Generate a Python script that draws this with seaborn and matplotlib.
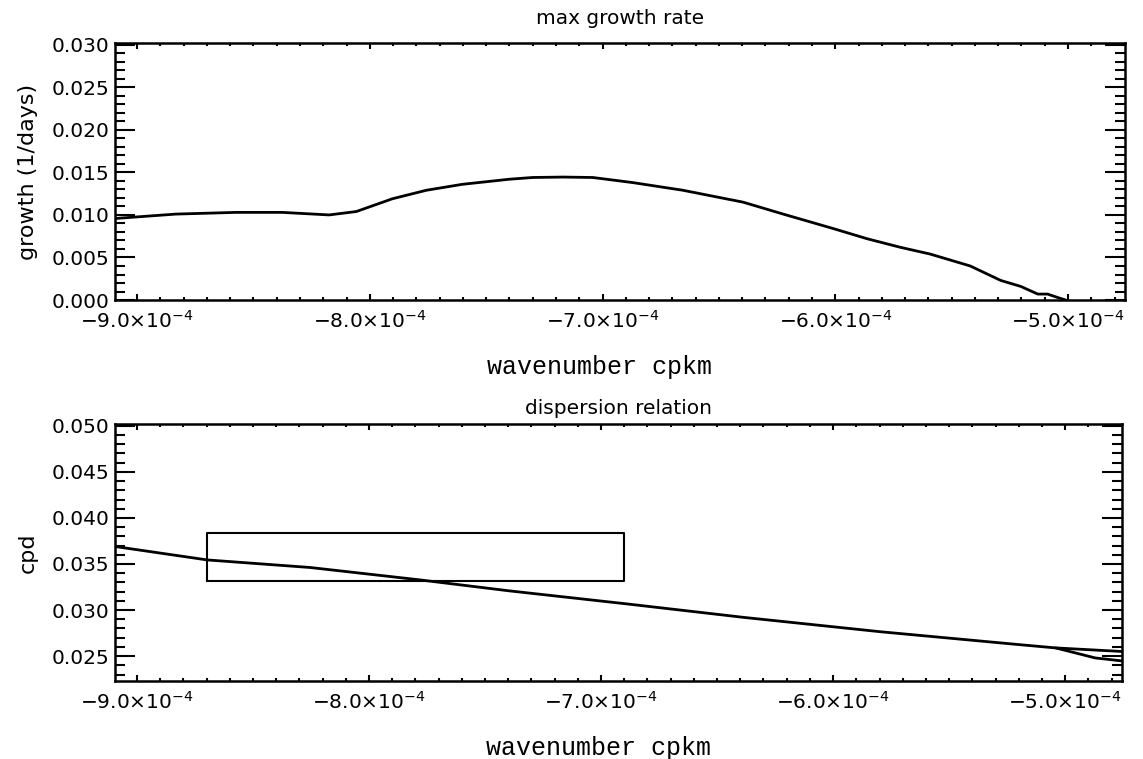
import matplotlib
matplotlib.use("Agg")
import matplotlib.pyplot as plt
from matplotlib.ticker import MultipleLocator, FuncFormatter
import numpy as np
import pandas as pd
import seaborn as sns

# Growth rate of the fastest-growing mode as a function of wavenumber (cpkm)
growth_k = [-9.100e-4, -8.833e-4, -8.575e-4, -8.377e-4, -8.175e-4, -8.058e-4,
            -7.903e-4, -7.757e-4, -7.602e-4, -7.399e-4, -7.300e-4, -7.170e-4,
            -7.042e-4, -6.870e-4, -6.655e-4, -6.396e-4, -6.224e-4, -6.009e-4,
            -5.863e-4, -5.721e-4, -5.592e-4, -5.420e-4, -5.289e-4, -5.203e-4,
            -5.130e-4, -5.088e-4, -5.045e-4, -5.010e-4]
growth_rate = [0.00957, 0.0101, 0.0103, 0.0103, 0.0100, 0.0104,
               0.0119, 0.0129, 0.0136, 0.0142, 0.0144, 0.01445,
               0.0144, 0.0138, 0.0129, 0.0115, 0.0101, 0.0084,
               0.0072, 0.0062, 0.0054, 0.0040, 0.0023, 0.0016,
               0.0007, 0.0007, 0.0003, 0.0000]

# Dispersion relation: main branch and the second root near the short-wave end
disp_k = [-9.095e-4, -8.697e-4, -8.254e-4, -7.783e-4, -7.398e-4, -6.883e-4,
          -6.384e-4, -5.798e-4, -5.200e-4, -5.041e-4, -4.755e-4]
disp_freq = [0.0369, 0.03544, 0.03462, 0.03328, 0.03209, 0.03065,
             0.0292, 0.02765, 0.02625, 0.02589, 0.02550]
branch2_k = [-5.041e-4, -4.870e-4, -4.755e-4]
branch2_freq = [0.02589, 0.0248, 0.02448]

# Highlighted wavenumber / frequency window
box_k = [-8.70e-4, -6.90e-4]
box_freq = [0.0332, 0.0384]

sns.set_theme(style="ticks")
plt.rcParams["font.family"] = ["DejaVu Sans"]
plt.rcParams["mathtext.fontset"] = "dejavusans"
for key in ("text.color", "axes.labelcolor", "xtick.color", "ytick.color",
            "axes.edgecolor"):
    plt.rcParams[key] = "black"

fig = plt.figure(figsize=(11.43, 7.59), dpi=100)
ax1 = fig.add_axes([0.1006, 0.6047, 0.8837, 0.3386])
ax2 = fig.add_axes([0.1006, 0.1028, 0.8810, 0.3386])

growth_df = pd.DataFrame({"k": growth_k, "rate": growth_rate})
disp_df = pd.DataFrame({"k": disp_k, "freq": disp_freq})
branch2_df = pd.DataFrame({"k": branch2_k, "freq": branch2_freq})

line_kw = dict(color="black", linewidth=2.0, estimator=None, legend=False)
sns.lineplot(data=growth_df, x="k", y="rate", ax=ax1, **line_kw)
sns.lineplot(data=disp_df, x="k", y="freq", ax=ax2, **line_kw)
sns.lineplot(data=branch2_df, x="k", y="freq", ax=ax2, **line_kw)

bx = [box_k[0], box_k[1], box_k[1], box_k[0], box_k[0]]
by = [box_freq[0], box_freq[0], box_freq[1], box_freq[1], box_freq[0]]
ax2.plot(bx, by, color="black", linewidth=1.5)

xlim = (-9.095e-4, -4.755e-4)


def sci_label(v, pos):
    m = v / 1e-4
    return r"$%s%.1f{\times}10^{-4}$" % ("-" if m < 0 else "", abs(m))


label_font = dict(family="Liberation Mono", size=18)
tick_size = 14.5

panels = [
    (ax1, (0.0, 0.0302), "growth (1/days)", "max growth rate", 14),
    (ax2, (0.0223, 0.0502), "cpd", "dispersion relation", 7),
]
for ax, ylim, ytitle, title, tpad in panels:
    ax.set_xlim(*xlim)
    ax.set_ylim(*ylim)
    ax.xaxis.set_major_locator(MultipleLocator(1e-4))
    ax.xaxis.set_minor_locator(MultipleLocator(1e-5))
    ax.yaxis.set_major_locator(MultipleLocator(0.005))
    ax.yaxis.set_minor_locator(MultipleLocator(0.001))
    ax.xaxis.set_major_formatter(FuncFormatter(sci_label))
    ax.yaxis.set_major_formatter(FuncFormatter(lambda v, p: "%.3f" % v))
    ax.tick_params(axis="both", which="both", direction="in",
                   top=True, right=True, colors="black", width=1.5,
                   labelsize=tick_size)
    ax.tick_params(axis="y", which="major", length=14.5, pad=4)
    ax.tick_params(axis="y", which="minor", length=7.2)
    ax.tick_params(axis="x", which="major", length=4, pad=7)
    ax.tick_params(axis="x", which="minor", length=2)
    for s in ax.spines.values():
        s.set_color("black")
        s.set_linewidth(1.8)
    ax.set_xlabel("wavenumber cpkm", fontdict=label_font, labelpad=17, x=0.48)
    ax.set_ylabel(ytitle, fontsize=16, labelpad=10)
    ax.set_title(title, fontsize=14.5, pad=tpad)
    ax.set_facecolor("white")

fig.patch.set_facecolor("white")
fig.savefig("out.png", dpi=100)
